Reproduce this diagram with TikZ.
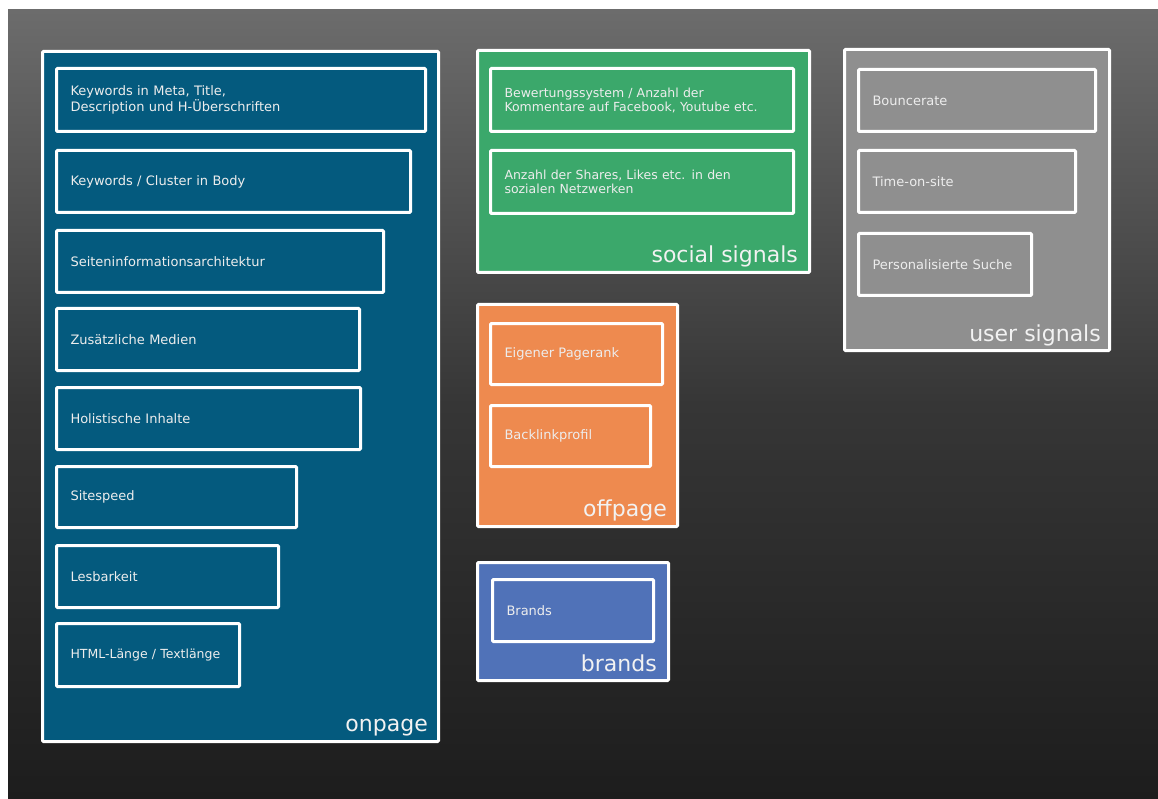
\documentclass[tikz,border=0pt]{standalone}
\usepackage{fontspec}
\setmainfont{DejaVu Sans}
\definecolor{onpagec}{HTML}{045A7E}
\definecolor{socialc}{HTML}{3BA86B}
\definecolor{userc}{HTML}{8F8F8F}
\definecolor{offc}{HTML}{EE8A4F}
\definecolor{brandc}{HTML}{5072B8}
\definecolor{bgtop}{HTML}{6C6C6C}
\definecolor{bgmid}{HTML}{363636}
\definecolor{bgbot}{HTML}{1D1D1D}
\tikzset{
  outerbox/.style={draw=white, line width=3pt, anchor=north west, inner sep=0pt, rounded corners=1pt},
  innerbox/.style={draw=white, line width=3pt, anchor=north west, inner xsep=14pt, inner ysep=0pt,
     align=left, text=white!93!black, rounded corners=1pt, font=\fontsize{13}{14.5}\selectfont},
  smalltext/.style={font=\fontsize{12.5}{14}\selectfont},
  grouplabel/.style={anchor=base east, text=white!95!black, inner sep=0pt, font=\fontsize{22}{25}\selectfont},
}
\begin{document}
\begin{tikzpicture}[x=1pt,y=-1pt]
\useasboundingbox (0,0) rectangle (1158,799);
\fill[white] (0,0) rectangle (1158,799);
\shade[top color=bgtop, bottom color=bgbot, middle color=bgmid] (8,10) rectangle (1158,799);

% onpage
\node[outerbox, fill=onpagec, minimum width=396pt, minimum height=690pt] (onpage) at (41,50) {};
\node[grouplabel] (onpagelbl) at ([shift={(-12pt,12pt)}]onpage.south east) {onpage};
\node[innerbox, minimum width=369pt, minimum height=63pt, text width=341pt] (op1) at (55,67) {Keywords in Meta, Title,\\Description und H-Überschriften};
\node[innerbox, minimum width=354pt, minimum height=62pt, text width=326pt] (op2) at (55,149) {Keywords / Cluster in Body};
\node[innerbox, minimum width=327pt, minimum height=62pt, text width=299pt] (op3) at (55,229) {Seiteninformationsarchitektur};
\node[innerbox, minimum width=303pt, minimum height=62pt, text width=275pt] (op4) at (55,307) {Zusätzliche Medien};
\node[innerbox, minimum width=304pt, minimum height=62pt, text width=276pt] (op5) at (55,386) {Holistische Inhalte};
\node[innerbox, minimum width=240pt, minimum height=61pt, text width=212pt] (op6) at (55,465) {Sitespeed};
\node[innerbox, minimum width=222pt, minimum height=62pt, text width=194pt] (op7) at (55,544) {Lesbarkeit};
\node[innerbox, smalltext, minimum width=183pt, minimum height=63pt, text width=155pt] (op8) at (55,622) {\mbox{HTML-Länge / Textlänge}};

% social signals
\node[outerbox, fill=socialc, minimum width=332pt, minimum height=222pt] (social) at (476,49) {};
\node[grouplabel] (sociallbl) at ([shift={(-13pt,11pt)}]social.south east) {social signals};
\node[innerbox, smalltext, minimum width=303pt, minimum height=63pt, text width=275pt] (ss1) at (489,67) {Bewertungssystem / Anzahl der\\Kommentare auf Facebook, Youtube etc.};
\node[innerbox, smalltext, minimum width=303pt, minimum height=63pt, text width=275pt] (ss2) at (489,149) {Anzahl der Shares, Likes etc. in den\\sozialen Netzwerken};

% user signals
\node[outerbox, fill=userc, minimum width=265pt, minimum height=301pt] (user) at (843,48) {};
\node[grouplabel] (userlbl) at ([shift={(-10pt,11pt)}]user.south east) {user signals};
\node[innerbox, minimum width=237pt, minimum height=62pt, text width=209pt] (us1) at (857,68) {Bouncerate};
\node[innerbox, minimum width=217pt, minimum height=62pt, text width=189pt] (us2) at (857,149) {Time-on-site};
\node[innerbox, minimum width=173pt, minimum height=62pt, text width=145pt] (us3) at (857,232) {Personalisierte Suche};

% offpage
\node[outerbox, fill=offc, minimum width=200pt, minimum height=222pt] (offpage) at (476,303) {};
\node[grouplabel] (offlbl) at ([shift={(-12pt,12pt)}]offpage.south east) {offpage};
\node[innerbox, minimum width=172pt, minimum height=61pt, text width=144pt] (of1) at (489,322) {Eigener Pagerank};
\node[innerbox, minimum width=160pt, minimum height=61pt, text width=132pt] (of2) at (489,404) {Backlinkprofil};

% brands
\node[outerbox, fill=brandc, minimum width=191pt, minimum height=118pt] (brands) at (476,561) {};
\node[grouplabel] (brandlbl) at ([shift={(-13pt,11pt)}]brands.south east) {brands};
\node[innerbox, minimum width=161pt, minimum height=62pt, text width=133pt] (br1) at (491,578) {Brands};
\end{tikzpicture}
\end{document}
